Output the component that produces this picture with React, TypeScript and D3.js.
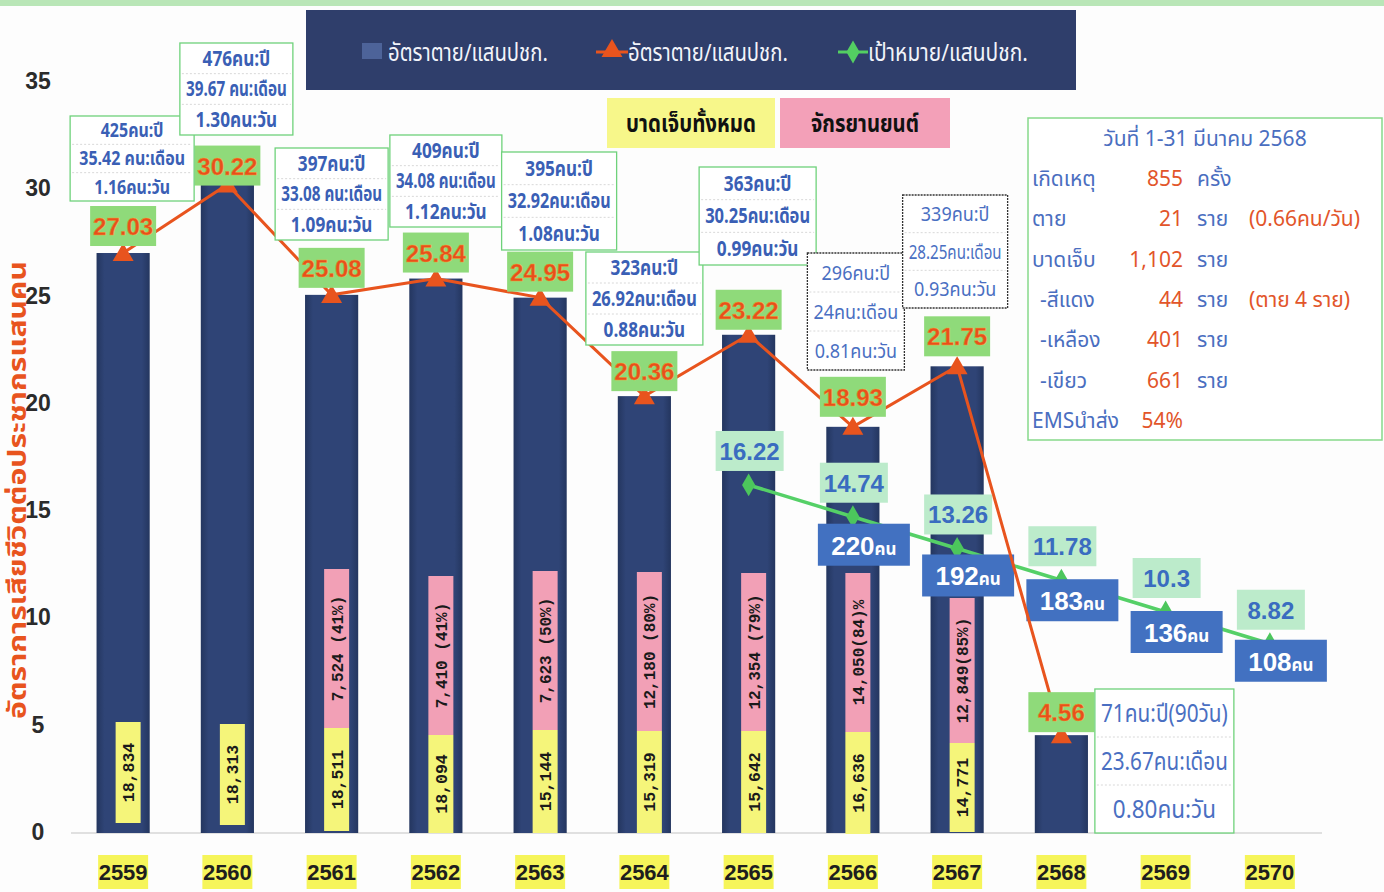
import React from 'react';
import * as d3 from 'd3';

const years = ['2559','2560','2561','2562','2563','2564','2565','2566','2567','2568','2569','2570'];
const barYears = ['2559','2560','2561','2562','2563','2564','2565','2566','2567','2568'];
const deathRate = [27.03,30.22,25.08,25.84,24.95,20.36,23.22,18.93,21.75,4.56];
const targetYears = ['2565','2566','2567','2568','2569','2570'];
const targetRate = [16.22,14.74,13.26,11.78,10.3,8.82];
const targetDeathYears = ['2566','2567','2568','2569','2570'];
const targetDeaths = [220,192,183,136,108];
const injuredYears = ['2559','2560','2561','2562','2563','2564','2565','2566','2567'];
const injuredTotal = ['18,834','18,313','18,511','18,094','15,144','15,319','15,642','16,636','14,771'];
const motoYears = ['2561','2562','2563','2564','2565','2566','2567'];
const motoLabels = ['7,524 (41%)','7,410 (41%)','7,623 (50%)','12,180 (80%)','12,354 (79%)','14,050(84)%','12,849(85%)'];
const deathsYear = ['425คน:ปี','476คน:ปี','397คน:ปี','409คน:ปี','395คน:ปี','323คน:ปี','363คน:ปี','296คน:ปี','339คน:ปี','71คน:ปี(90วัน)'];
const deathsMonth = ['35.42 คน:เดือน','39.67 คน:เดือน','33.08 คน:เดือน','34.08 คน:เดือน','32.92คน:เดือน','26.92คน:เดือน','30.25คน:เดือน','24คน:เดือน','28.25คน:เดือน','23.67คน:เดือน'];
const deathsDay = ['1.16คน:วัน','1.30คน:วัน','1.09คน:วัน','1.12คน:วัน','1.08คน:วัน','0.88คน:วัน','0.99คน:วัน','0.81คน:วัน','0.93คน:วัน','0.80คน:วัน'];
const yTicks = [0,5,10,15,20,25,30,35];
const yTitle = 'อัตราการเสียชีวิตต่อประชากรแสนคน';
const legendLabels = ['อัตราตาย/แสนปชก.','อัตราตาย/แสนปชก.','เป้าหมาย/แสนปชก.'];
const subLegend = ['บาดเจ็บทั้งหมด','จักรยานยนต์'];
const panelTitle = 'วันที่ 1-31 มีนาคม 2568';
const panelLabels = ['เกิดเหตุ','ตาย','บาดเจ็บ','-สีแดง','-เหลือง','-เขียว','EMSนำส่ง'];
const panelNums = ['855','21','1,102','44','401','661','54%'];
const panelUnits = ['ครั้ง','ราย','ราย','ราย','ราย','ราย',''];
const panelExtras = ['','(0.66คน/วัน)','','(ตาย 4 ราย)','','',''];

// layout (pixels) for annotation boxes
const boxLayout = [
  { dx: 9, top: 116, w: 124, h: 85, kind: 'bold', fs: 19.5 },
  { dx: 9, top: 43, w: 113, h: 92, kind: 'bold', fs: 21 },
  { dx: 0, top: 148, w: 113, h: 92, kind: 'bold', fs: 21 },
  { dx: 10, top: 135, w: 112, h: 92, kind: 'bold', fs: 21 },
  { dx: 19, top: 152, w: 115, h: 98, kind: 'bold', fs: 21 },
  { dx: 0, top: 252, w: 117, h: 93, kind: 'bold', fs: 21 },
  { dx: 9, top: 167, w: 117, h: 98, kind: 'bold', fs: 21 },
  { dx: 3, top: 253, w: 97, h: 117, kind: 'thin', fs: 20 },
  { dx: -2, top: 195, w: 105, h: 113, kind: 'thin', fs: 20 },
  { dx: 103, top: 689, w: 139, h: 144, kind: 'big', fs: 25 },
];
const deathLabelDy = [-27,-19,-27,-26,-26,-25,-25,-30,-30,-23];
const blueBoxDy = [28,27,20,20,17];
const injuredTop = [722,724,728,735,730,731,731,732,743];
const injuredBottom = [823,825,831,833,833,833,833,834,832];
const motoTop = [569,576,571,572,573,573,598];

const THAI = "'Noto Sans Thai','Noto Sans Thai UI','Loma','Garuda','Tlwg Typo','Noto Sans',sans-serif";
const ARIAL = "'Liberation Sans',Arial,sans-serif";
const MONO = "'Liberation Mono','Courier New',monospace";

export default function App() {
  const ref = React.useRef<SVGSVGElement>(null);
  const W = 1384, H = 892;
  const x = d3.scaleBand<string>().domain(years).range([71, 1322]).paddingInner(0.49).paddingOuter(0.245);
  const y = d3.scaleLinear().domain([0, 35]).range([833, 82]);
  const bw = x.bandwidth();
  const cx = (yr: string) => (x(yr) as number) + bw / 2;

  React.useEffect(() => {
    const svg = d3.select(ref.current);
    svg.selectAll<SVGTextElement, unknown>('text[data-sq],text[data-maxw],text[data-fit]').each(function () {
      const el = this;
      if (el.getAttribute('data-done')) return;
      el.setAttribute('data-done', '1');
      const w = el.getComputedTextLength();
      let target = w;
      const sq = el.getAttribute('data-sq');
      if (sq) target = w * +sq;
      const mw = el.getAttribute('data-maxw');
      if (mw && target > +mw) target = +mw;
      const fit = el.getAttribute('data-fit');
      if (fit) target = +fit;
      const f = target / w;
      if (Math.abs(f - 1) < 0.005) return;
      const tr = el.getAttribute('transform');
      if (tr) {
        el.setAttribute('transform', `${tr} scale(${f},1)`);
      } else {
        const xx = el.getAttribute('x') || '0';
        const yy = el.getAttribute('y') || '0';
        el.setAttribute('x', '0');
        el.setAttribute('y', '0');
        el.setAttribute('transform', `translate(${xx},${yy}) scale(${f},1)`);
      }
    });
  }, []);

  const deathLine = d3.line<number>().x((_, i) => cx(barYears[i])).y(d => y(d));
  const targetLine = d3.line<number>().x((_, i) => cx(targetYears[i])).y(d => y(d));
  const tri = d3.symbol().type(d3.symbolTriangle).size(190)();
  const dia = d3.symbol().type(d3.symbolDiamond).size(150)();

  return (
    <svg ref={ref} width={W} height={H} style={{ position: 'absolute', left: 0, top: 0, background: '#fdfdfd' }}>
      <defs>
        <linearGradient id="barG" x1="0" x2="1" y1="0" y2="0">
          <stop offset="0" stopColor="#24365f" />
          <stop offset="0.15" stopColor="#2f4476" />
          <stop offset="0.85" stopColor="#2f4476" />
          <stop offset="1" stopColor="#24365f" />
        </linearGradient>
      </defs>
      <rect x={0} y={0} width={W} height={6} fill="#b9e6b7" />

      {/* legend */}
      <rect x={306} y={10} width={770} height={80} fill="#2f3e6b" />
      <rect x={362} y={43} width={20} height={16} fill="#4d6399" />
      <text x={388} y={61} fill="#f2f4fa" fontFamily={THAI} fontSize={24} data-fit="160">{legendLabels[0]}</text>
      <line x1={596} x2={628} y1={52} y2={52} stroke="#e8541e" strokeWidth={3} />
      <path d={tri} transform="translate(612,51)" fill="#e8541e" />
      <text x={628} y={61} fill="#f2f4fa" fontFamily={THAI} fontSize={24} data-fit="160">{legendLabels[1]}</text>
      <line x1={838} x2={868} y1={52} y2={52} stroke="#53cf62" strokeWidth={3} />
      <path d={dia} transform="translate(853,52)" fill="#53cf62" />
      <text x={868} y={61} fill="#f2f4fa" fontFamily={THAI} fontSize={24} data-fit="160">{legendLabels[2]}</text>

      <rect x={607} y={98} width={168} height={50} fill="#f7f78a" />
      <text x={691} y={132} textAnchor="middle" fill="#111" fontFamily={THAI} fontWeight="bold" fontSize={24} data-fit="130">{subLegend[0]}</text>
      <rect x={780} y={98} width={170} height={50} fill="#f3a0b8" />
      <text x={865} y={132} textAnchor="middle" fill="#111" fontFamily={THAI} fontWeight="bold" fontSize={24} data-fit="108">{subLegend[1]}</text>

      {/* y axis */}
      {yTicks.map(t => (
        <text key={t} x={38} y={y(t) + 7} textAnchor="middle" fontFamily={ARIAL} fontWeight="bold" fontSize={23} fill="#2b2b2b">{t}</text>
      ))}
      <text transform="translate(26,490) rotate(-90)" textAnchor="middle" fill="#e8541e" fontFamily={THAI} fontWeight="bold" fontSize={25} data-fit="458">{yTitle}</text>

      <line x1={71} x2={1322} y1={y(0)} y2={y(0)} stroke="#d6d6d6" strokeWidth={1.5} />

      {/* bars */}
      {barYears.map((yr, i) => (
        <rect key={yr} x={x(yr)} y={y(deathRate[i])} width={bw} height={y(0) - y(deathRate[i])} fill="url(#barG)" />
      ))}

      {/* injured (yellow) and motorcycle (pink) boxes */}
      {motoYears.map((yr, i) => {
        const bx = cx(yr) + 5;
        const top = motoTop[i];
        const bot = injuredTop[injuredYears.indexOf(yr)];
        return (
          <g key={'m' + yr}>
            <rect x={bx - 12.5} y={top} width={25} height={bot - top} fill="#f2a0b6" />
            <text transform={`translate(${bx + 6},${(top + bot) / 2}) rotate(-90)`} textAnchor="middle" fontFamily={MONO} fontWeight="bold" fontSize={16} fill="#1a1a1a" data-maxw={bot - top - 8}>{motoLabels[i]}</text>
          </g>
        );
      })}
      {injuredYears.map((yr, i) => {
        const bx = cx(yr) + 5;
        const top = injuredTop[i];
        const bot = injuredBottom[i];
        return (
          <g key={'y' + yr}>
            <rect x={bx - 12.5} y={top} width={25} height={bot - top} fill="#f5f57a" />
            <text transform={`translate(${bx + 6},${(top + bot) / 2}) rotate(-90)`} textAnchor="middle" fontFamily={MONO} fontWeight="bold" fontSize={16.5} fill="#1a1a1a">{injuredTotal[i]}</text>
          </g>
        );
      })}

      {/* target line */}
      <path d={targetLine(targetRate) as string} fill="none" stroke="#55d067" strokeWidth={3.5} />
      {targetRate.map((v, i) => (
        <path key={'d' + i} d={dia} transform={`translate(${cx(targetYears[i])},${y(v)})`} fill="#4cc65c" />
      ))}

      {/* blue target-death boxes */}
      {targetDeaths.map((v, i) => {
        const yr = targetDeathYears[i];
        const bx = cx(yr) + 11;
        const by = y(targetRate[targetYears.indexOf(yr)]) + blueBoxDy[i];
        return (
          <g key={'b' + yr}>
            <rect x={bx - 46} y={by - 21} width={92} height={42} fill="#4271c1" />
            <text x={bx} y={by + 10} textAnchor="middle" fill="#fff" fontFamily={ARIAL} fontWeight="bold">
              <tspan fontSize={26}>{v}</tspan><tspan fontSize={17} fontFamily={THAI}>คน</tspan>
            </text>
          </g>
        );
      })}

      {/* death line */}
      <path d={deathLine(deathRate) as string} fill="none" stroke="#e8541e" strokeWidth={3} />
      {deathRate.map((v, i) => (
        <path key={'t' + i} d={tri} transform={`translate(${cx(barYears[i])},${y(v) + 2})`} fill="#e8541e" />
      ))}

      {/* target labels */}
      {targetRate.map((v, i) => {
        const lx = cx(targetYears[i]) + 1;
        const ly = y(v) - 34;
        return (
          <g key={'tl' + i}>
            <rect x={lx - 34} y={ly - 20} width={68} height={40} fill="#bcebcb" />
            <text x={lx} y={ly + 9} textAnchor="middle" fill="#3a6cc0" fontFamily={ARIAL} fontWeight="bold" fontSize={24}>{v}</text>
          </g>
        );
      })}

      {/* death-rate labels */}
      {deathRate.map((v, i) => {
        const lx = cx(barYears[i]);
        const ly = y(v) + deathLabelDy[i];
        return (
          <g key={'dl' + i}>
            <rect x={lx - 33} y={ly - 20} width={66} height={40} fill="#8fda7a" />
            <text x={lx} y={ly + 9} textAnchor="middle" fill="#e84f1c" fontFamily={ARIAL} fontWeight="bold" fontSize={24} stroke="#f0a030" strokeWidth={0.4}>{v.toFixed(2)}</text>
          </g>
        );
      })}

      {/* info boxes */}
      {barYears.map((yr, i) => {
        const L = boxLayout[i];
        const bx = cx(yr) + L.dx;
        const lines = [deathsYear[i], deathsMonth[i], deathsDay[i]];
        const bold = L.kind === 'bold';
        const fs = L.fs;
        const border = L.kind === 'thin' ? '#333' : '#6fd27b';
        return (
          <g key={'ib' + yr}>
            <rect x={bx - L.w / 2} y={L.top} width={L.w} height={L.h} fill="#fff" stroke={border} strokeWidth={1.3} strokeDasharray={L.kind === 'thin' ? '2 1' : undefined} />
            {[1, 2].map(k => (
              <line key={k} x1={bx - L.w / 2 + 2} x2={bx + L.w / 2 - 2} y1={L.top + (L.h * k) / 3} y2={L.top + (L.h * k) / 3} stroke="#d8d8d8" strokeDasharray="2 2" />
            ))}
            {lines.map((s, k) => (
              <text key={k} x={bx} y={L.top + (L.h * (2 * k + 1)) / 6 + fs * 0.35} textAnchor="middle" fill={bold ? '#3a5fb5' : '#4a6fc2'} fontFamily={THAI} fontWeight={bold ? 'bold' : 'normal'} fontSize={fs} data-sq={bold ? '0.82' : '0.9'} data-maxw={L.w - 12}>{s}</text>
            ))}
          </g>
        );
      })}

      {/* right panel */}
      <rect x={1028} y={118} width={354} height={322} fill="#fff" stroke="#86d98a" strokeWidth={1.5} />
      <text x={1205} y={146} textAnchor="middle" fill="#4a6ec0" fontFamily={THAI} fontSize={21}>{panelTitle}</text>
      {panelLabels.map((lab, i) => {
        const ry = 186 + i * 40.3;
        const indent = lab.startsWith('-') ? 8 : 0;
        return (
          <g key={'p' + i}>
            <text x={1032 + indent} y={ry} fill="#4a6ec0" fontFamily={THAI} fontSize={21}>{lab}</text>
            <text x={1183} y={ry} textAnchor="end" fill="#e2552a" fontFamily={THAI} fontSize={21}>{panelNums[i]}</text>
            {panelUnits[i] && <text x={1197} y={ry} fill="#4a6ec0" fontFamily={THAI} fontSize={21}>{panelUnits[i]}</text>}
            {panelExtras[i] && <text x={1249} y={ry} fill="#e2552a" fontFamily={THAI} fontSize={21}>{panelExtras[i]}</text>}
          </g>
        );
      })}

      {/* x axis labels */}
      {years.map(yr => (
        <g key={'x' + yr}>
          <rect x={cx(yr) - 25} y={855} width={50} height={34} fill="#f6f55a" />
          <text x={cx(yr)} y={880} textAnchor="middle" fontFamily={ARIAL} fontWeight="bold" fontSize={22} fill="#1e1e1e">{yr}</text>
        </g>
      ))}
    </svg>
  );
}
